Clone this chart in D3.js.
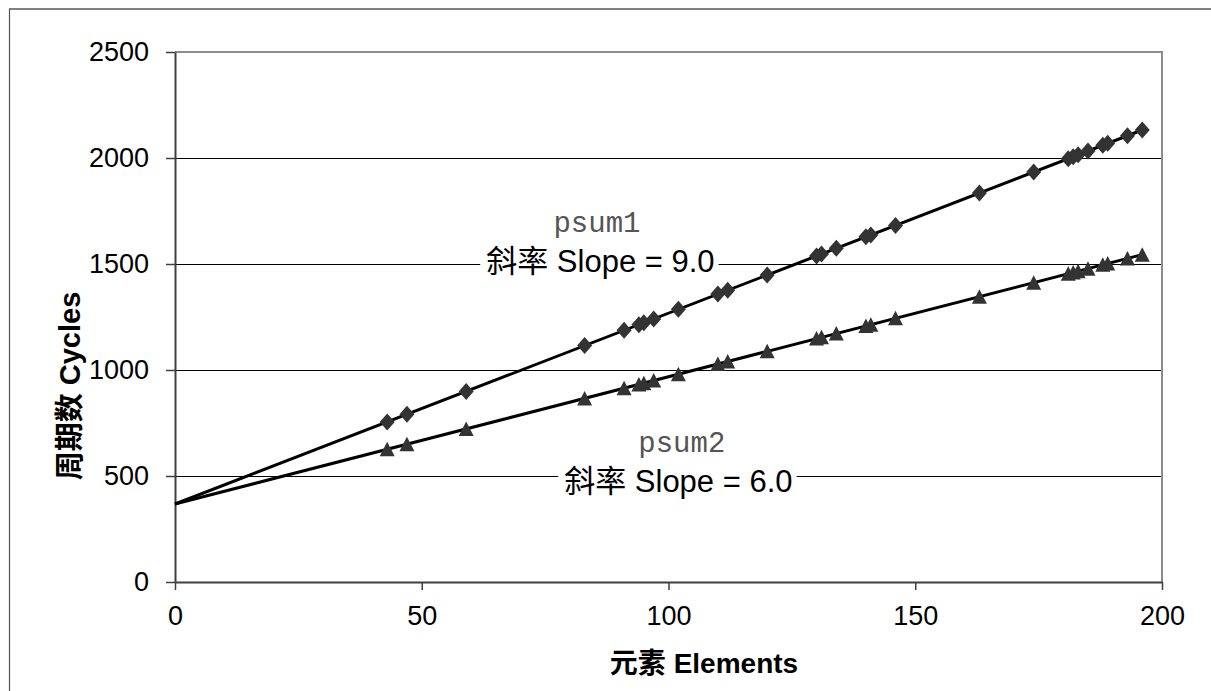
<!DOCTYPE html>
<html>
<head>
<meta charset="utf-8">
<script src="https://cdn.jsdelivr.net/npm/d3@7/dist/d3.min.js"></script>
<style>
  html, body { margin: 0; padding: 0; background: #fff; }
  svg { display: block; }
</style>
</head>
<body>
<svg id="chart" width="1211" height="691"></svg>
<script>
// Vector length (number of elements) for each measurement
const elements = [43, 47, 59, 83, 91, 94, 95, 97, 102, 110, 112, 120, 130, 131, 134,
                  140, 141, 146, 163, 174, 181, 182, 183, 185, 188, 189, 193, 196];
// Measured cycle counts
const psum1Cycles = [755, 791, 899, 1115, 1187, 1214, 1223, 1241, 1286, 1358, 1376, 1448,
                     1538, 1547, 1574, 1628, 1637, 1682, 1835, 1934, 1997, 2006, 2015,
                     2033, 2060, 2069, 2105, 2132];
const psum2Cycles = [626, 650, 722, 866, 914, 932, 938, 950, 980, 1028, 1040, 1088,
                     1148, 1154, 1172, 1208, 1214, 1244, 1346, 1412, 1454, 1460, 1466,
                     1478, 1496, 1502, 1526, 1544];
// Fitted lines: intercept and slope
const fitIntercept = 368;
const fitSlopes = [9.0, 6.0];
const fitEnd = 196;

const xTicks = [0, 50, 100, 150, 200];
const yTicks = [0, 500, 1000, 1500, 2000, 2500];

const svg = d3.select("#chart");
const plot = { left: 175, top: 52, right: 1162, bottom: 582 };

const x = d3.scaleLinear().domain([0, 200]).range([plot.left, plot.right]);
const y = d3.scaleLinear().domain([0, 2500]).range([plot.bottom, plot.top]);

const sans = "'Liberation Sans', 'Noto Sans CJK SC', Arial, sans-serif";

// Outer frame (top and left edges fall inside the canvas)
svg.append("line")
  .attr("x1", 9).attr("x2", 1211).attr("y1", 9).attr("y2", 9)
  .attr("stroke", "#808080").attr("stroke-width", 2);
svg.append("line")
  .attr("x1", 9.5).attr("x2", 9.5).attr("y1", 9).attr("y2", 691)
  .attr("stroke", "#555").attr("stroke-width", 1.2);

// Horizontal gridlines
svg.append("g")
  .selectAll("line")
  .data(yTicks.filter(v => v > 0 && v < 2500))
  .join("line")
  .attr("x1", plot.left).attr("x2", plot.right)
  .attr("y1", d => Math.round(y(d)) + 0.5).attr("y2", d => Math.round(y(d)) + 0.5)
  .attr("stroke", "#000").attr("stroke-width", 1);

// Plot area top and right border
svg.append("path")
  .attr("d", `M${plot.left},${plot.top}H${plot.right}V${plot.bottom}`)
  .attr("fill", "none").attr("stroke", "#8c8c8c").attr("stroke-width", 2);

// Axes
const fmt = d3.format("d");
const xAxis = d3.axisBottom(x).tickValues(xTicks).tickFormat(fmt)
  .tickSize(8).tickPadding(16).tickSizeOuter(0);
const yAxis = d3.axisLeft(y).tickValues(yTicks).tickFormat(fmt)
  .tickSize(9).tickPadding(17).tickSizeOuter(0);

const gx = svg.append("g").attr("transform", `translate(0,${plot.bottom})`).call(xAxis);
const gy = svg.append("g").attr("transform", `translate(${plot.left},0)`).call(yAxis);

[gx, gy].forEach(g => {
  g.select(".domain").attr("stroke", "#404040").attr("stroke-width", 2);
  g.selectAll(".tick line").attr("stroke", "#404040").attr("stroke-width", 1.5);
  g.selectAll(".tick text")
    .attr("fill", "#000")
    .style("font-family", sans)
    .style("font-size", "27px");
});
gx.selectAll(".tick text").attr("dy", "0.71em");

// Axis titles
svg.append("text")
  .attr("x", 704).attr("y", 673)
  .attr("text-anchor", "middle")
  .style("font-family", sans)
  .style("font-weight", "bold").style("font-size", "28px")
  .text("元素 Elements");

svg.append("text")
  .attr("transform", "translate(80,386) rotate(-90)")
  .attr("text-anchor", "middle")
  .style("font-family", sans)
  .style("font-weight", "bold").style("font-size", "29px")
  .text("周期数  Cycles");

// Fitted lines
const fitLine = d3.line().x(d => x(d[0])).y(d => y(d[1]));
fitSlopes.forEach(s => {
  svg.append("path")
    .attr("d", fitLine([[0, fitIntercept], [fitEnd, fitIntercept + s * fitEnd]]))
    .attr("fill", "none").attr("stroke", "#000").attr("stroke-width", 3);
});

// Markers
const diamondPath = "M0,-8.5L7.5,0L0,8.5L-7.5,0Z";
const trianglePath = "M0,-7.5L7.5,7L-7.5,7Z";

svg.append("g").selectAll("path")
  .data(elements.map((n, i) => [n, psum1Cycles[i]]))
  .join("path")
  .attr("d", diamondPath)
  .attr("transform", d => `translate(${x(d[0])},${y(d[1])})`)
  .attr("fill", "#333");

svg.append("g").selectAll("path")
  .data(elements.map((n, i) => [n, psum2Cycles[i]]))
  .join("path")
  .attr("d", trianglePath)
  .attr("transform", d => `translate(${x(d[0])},${y(d[1])})`)
  .attr("fill", "#333");

// Series annotations
const annotations = [
  { name: "psum1", slope: "斜率 Slope = 9.0", nameX: 85.5, slopeX: 86.2, nameY: 1651, slopeY: 1462 },
  { name: "psum2", slope: "斜率 Slope = 6.0", nameX: 102.7, slopeX: 102.0, nameY: 615, slopeY: 426 }
];

annotations.forEach(a => {
  const g = svg.append("g");
  const t = g.append("text")
    .attr("x", x(a.slopeX)).attr("y", y(a.slopeY))
    .attr("text-anchor", "middle")
    .style("font-family", sans)
    .style("font-size", "31px")
    .text(a.slope);
  const bb = t.node().getBBox();
  g.insert("rect", "text")
    .attr("x", bb.x - 6).attr("y", bb.y + 2)
    .attr("width", bb.width + 10).attr("height", bb.height - 4)
    .attr("fill", "#fff");
  g.append("text")
    .attr("x", x(a.nameX)).attr("y", y(a.nameY))
    .attr("text-anchor", "middle")
    .attr("fill", "#555")
    .style("font-family", "'Liberation Mono', 'Courier New', monospace")
    .style("font-size", "29px")
    .text(a.name);
});
</script>
</body>
</html>
